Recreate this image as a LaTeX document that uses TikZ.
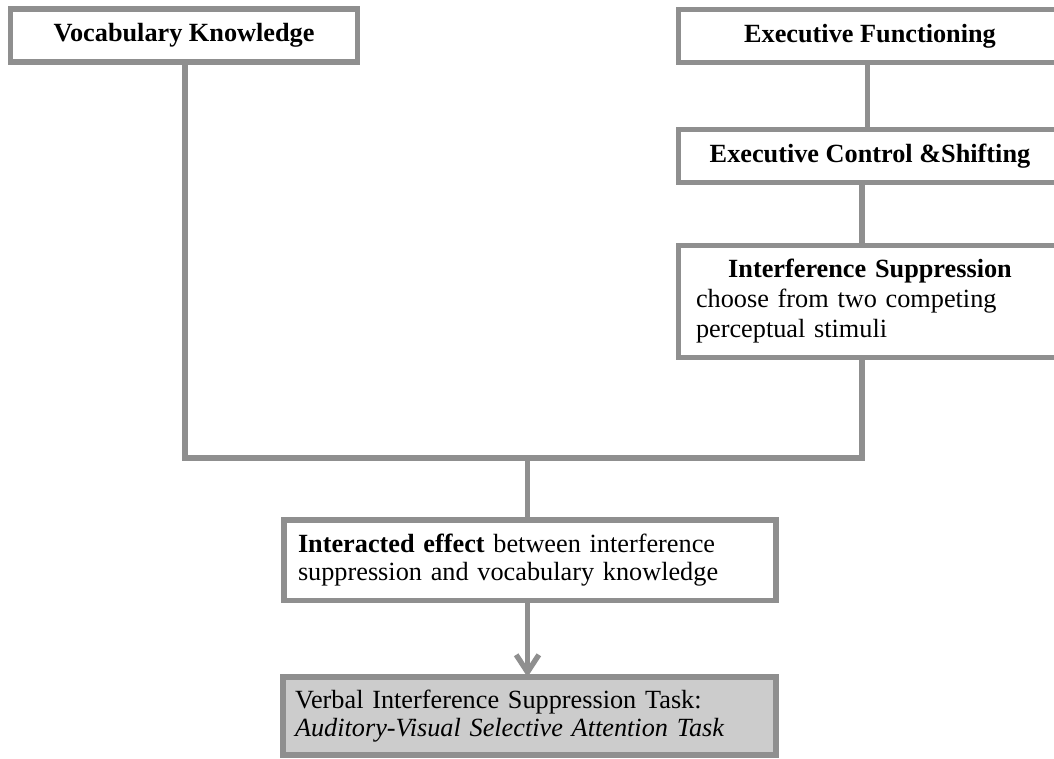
\documentclass[tikz,border=0pt]{standalone}
\usepackage{fontspec}
\setmainfont{Liberation Serif}
\usetikzlibrary{arrows.meta}
\definecolor{lg}{RGB}{143,143,143}
\definecolor{boxfill}{RGB}{204,204,204}
\tikzset{
  box/.style={draw=lg, line width=4pt, fill=white, inner sep=0pt, outer sep=0pt,
    font=\fontsize{19.7pt}{22pt}\selectfont, text=black},
  conn/.style={draw=lg, line width=4pt, line join=miter},
  arr/.style={conn, -{Straight Barb[length=13pt,width=17pt]}}
}
\begin{document}
\begin{tikzpicture}[x=0.75pt,y=-0.75pt]
\useasboundingbox (0,0) rectangle (1054,758);
\clip (0,0) rectangle (1054,758);
% nodes
\node[box, minimum width=260.25pt, minimum height=39.75pt] (vocab) at (184,35.5)
  {\textbf{Vocabulary Knowledge}};
\node[box, minimum width=286.9pt, minimum height=39.75pt] (ef) at (870,36)
  {\textbf{Executive Functioning}};
\node[box, minimum width=286.9pt, minimum height=39.75pt] (ec) at (870,156)
  {\textbf{Executive Control \&Shifting}};
\node[box, minimum width=286.9pt, minimum height=84pt, text width=261pt, align=left,
  font=\fontsize{19.7pt}{22.5pt}\selectfont] (is) at (870,301.5)
  {\makebox[\linewidth]{\textbf{Interference Suppression}}\\choose from two competing\\perceptual stimuli};
\node[box, minimum width=369pt, minimum height=60.4pt, text width=348pt, align=left,
  font=\fontsize{19.7pt}{20.8pt}\selectfont] (ie) at (530,560.25)
  {\textbf{Interacted effect} between interference\\suppression and vocabulary knowledge};
\node[box, fill=boxfill, minimum width=369.75pt, minimum height=58.5pt, text width=351.75pt, align=left,
  font=\fontsize{19.7pt}{21pt}\selectfont] (vt) at (529.5,716)
  {Verbal Interference Suppression Task:\\\textit{Auditory-Visual Selective Attention Task}};
% connectors
\coordinate (j) at (527.5,458);
\draw[conn] ([xshift=-1.9pt]ef.south) -- ([xshift=-1.9pt]ec.north);
\draw[conn] ([xshift=-6pt]ec.south) -- ([xshift=-6pt]is.north);
\draw[conn] ([xshift=0.75pt]vocab.south) |- (j) -| ([xshift=-6pt]is.south);
\draw[conn] (j) -- (j |- ie.north);
\draw[arr] (ie.south -| j) -- (vt.north -| j);
\end{tikzpicture}
\end{document}
